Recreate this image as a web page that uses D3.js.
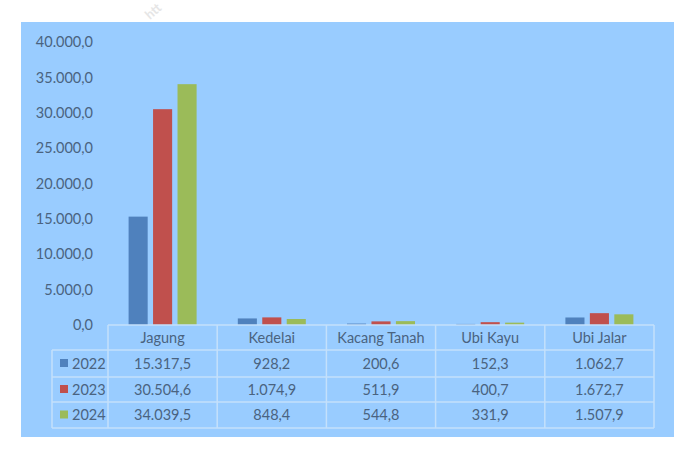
<!DOCTYPE html>
<html><head><meta charset="utf-8">
<script src="https://cdn.jsdelivr.net/npm/d3@7"></script>
<style>body{margin:0;background:#fff;} svg{display:block;font-family:Lato, "Open Sans", sans-serif;}</style>
</head><body><svg id="c" width="700" height="457"></svg>
<script>
const categories = ["Jagung","Kedelai","Kacang Tanah","Ubi Kayu","Ubi Jalar"];
const years = ["2022","2023","2024"];
const values2022 = [15317.5, 928.2, 200.6, 152.3, 1062.7];
const values2023 = [30504.6, 1074.9, 511.9, 400.7, 1672.7];
const values2024 = [34039.5, 848.4, 544.8, 331.9, 1507.9];
const yTicks = [0,5000,10000,15000,20000,25000,30000,35000,40000];
const colors = ["#4F81BD","#C0504D","#9BBB59"];
const series = [values2022, values2023, values2024];

const fmt = d3.formatLocale({decimal:",", thousands:".", grouping:[3], currency:["",""]}).format(",.1f");
const svg = d3.select("#c");
const textColor = "#4a6380";
const lineColor = "#c4e0fb";

// background panel
svg.append("rect").attr("x",21).attr("y",22).attr("width",653).attr("height",415).attr("fill","#99CCFF");
// watermark
svg.append("text").attr("x",150).attr("y",20).attr("transform","rotate(-42,150,20)")
  .attr("fill","#e6e6e6").attr("font-size",13).attr("font-weight","bold").text("htt");

const x0 = 108, x1 = 654, yBase = 325, yTop = 42;
const x = d3.scaleBand().domain(categories).range([x0,x1]);
const y = d3.scaleLinear().domain([0,40000]).range([yBase,yTop]);
const xs = d3.scaleBand().domain(years).range([0,68]).paddingInner(0.22);

// y axis
const yAxis = d3.axisLeft(y).tickValues(yTicks).tickFormat(fmt).tickSize(0).tickPadding(0);
const ga = svg.append("g").attr("transform",`translate(93,0)`).call(yAxis);
ga.select(".domain").remove();
ga.selectAll("text").attr("fill",textColor).attr("font-size",14.5).attr("font-family","Lato, sans-serif");

// bars
years.forEach((yr,i)=>{
  svg.append("g").selectAll("rect").data(series[i]).join("rect")
    .attr("x",(d,j)=>x(categories[j]) + x.bandwidth()/2 - 34 + xs(yr))
    .attr("width",xs.bandwidth())
    .attr("y",d=>y(d)).attr("height",d=>yBase-y(d))
    .attr("fill",colors[i]);
});

// data table
const rowY = [325,350,377,402,428];
const legX = 52;
const tg = svg.append("g");
tg.append("line").attr("x1",x0).attr("x2",x1).attr("y1",rowY[0]).attr("y2",rowY[0]).attr("stroke",lineColor).attr("stroke-width",1.5);
for(let r=1;r<rowY.length;r++){
  tg.append("line").attr("x1",legX).attr("x2",x1).attr("y1",rowY[r]).attr("y2",rowY[r]).attr("stroke",lineColor).attr("stroke-width",1.5);
}
tg.append("line").attr("x1",legX).attr("x2",legX).attr("y1",rowY[1]).attr("y2",rowY[4]).attr("stroke",lineColor).attr("stroke-width",1.5);
[x0, ...categories.map(c=>x(c)+x.bandwidth())].forEach(xx=>{
  tg.append("line").attr("x1",xx).attr("x2",xx).attr("y1",rowY[0]).attr("y2",rowY[4]).attr("stroke",lineColor).attr("stroke-width",1.5);
});
tg.selectAll("text.h").data(categories).join("text").attr("class","h")
  .attr("x",d=>x(d)+x.bandwidth()/2).attr("y",(rowY[0]+rowY[1])/2+5)
  .attr("text-anchor","middle").attr("fill",textColor).attr("font-size",14.5).text(d=>d);
years.forEach((yr,i)=>{
  const cy = (rowY[i+1]+rowY[i+2])/2 + 5;
  tg.append("rect").attr("x",60).attr("y",cy-9.5).attr("width",8).attr("height",8).attr("fill",colors[i]);
  tg.append("text").attr("x",72).attr("y",cy).attr("fill",textColor).attr("font-size",14.5).text(yr);
  tg.selectAll(null).data(series[i]).join("text")
    .attr("x",(d,j)=>x(categories[j])+x.bandwidth()/2).attr("y",cy)
    .attr("text-anchor","middle").attr("fill",textColor).attr("font-size",14.5).text(d=>fmt(d));
});
</script></body></html>
